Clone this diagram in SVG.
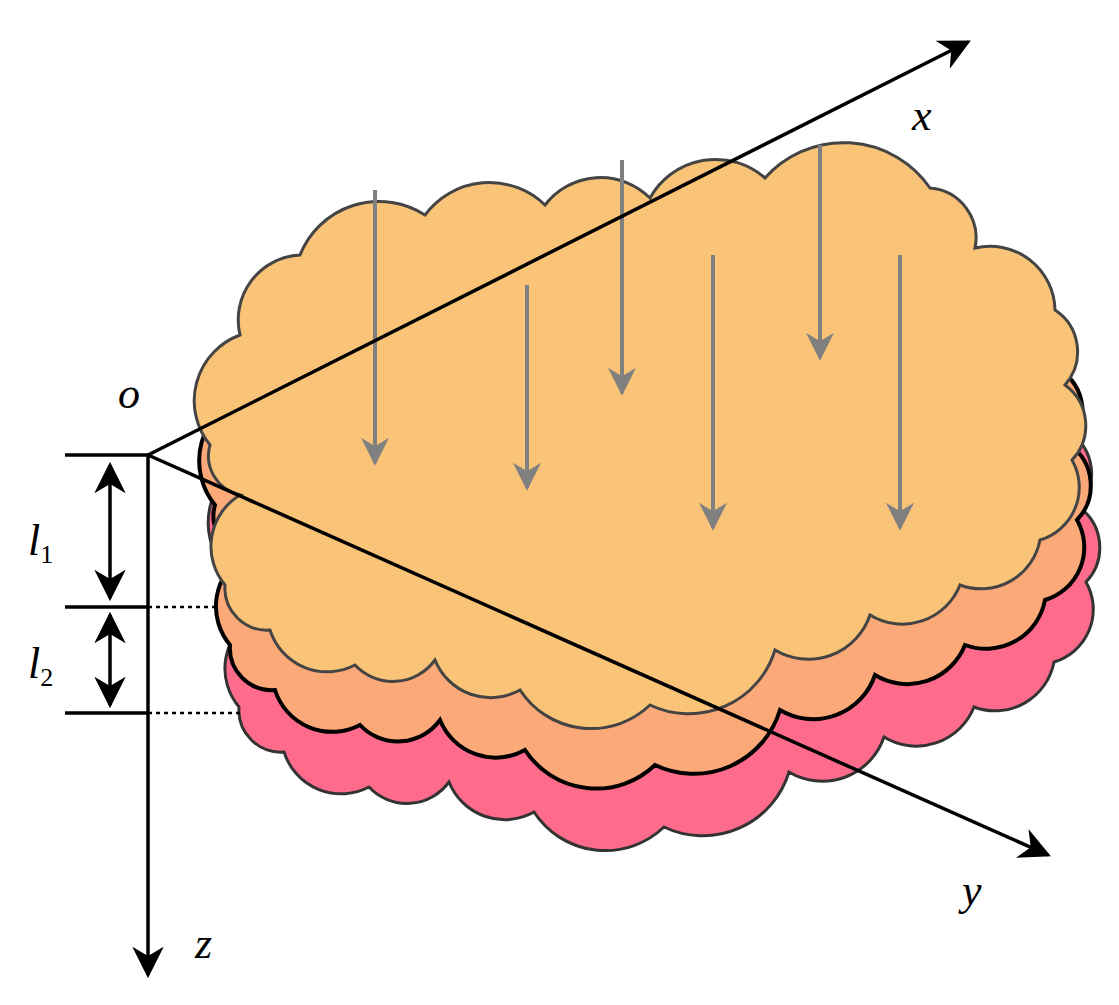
<svg xmlns="http://www.w3.org/2000/svg" width="1119" height="1005" viewBox="0 0 1119 1005">
<defs>
<marker id="bk" viewBox="0 0 10 10" refX="9" refY="5" markerWidth="9" markerHeight="9" orient="auto-start-reverse"><path d="M0,0 L10,5 L0,10 L3,5 Z" fill="#000"/></marker>
<marker id="gr" viewBox="0 0 10 10" refX="9" refY="5" markerWidth="7" markerHeight="7" orient="auto"><path d="M0,0 L10,5 L0,10 L3,5 Z" fill="#808080"/></marker>
<path id="cloud" d="M210,445 A70,70 0 0 1 240,335 A65,65 0 0 1 300,255 A85,85 0 0 1 425,215 A80,80 0 0 1 545,205 A70,70 0 0 1 650,198 A75,75 0 0 1 765,178 A105,105 0 0 1 930,188 A50,50 0 0 1 975,248 A65,65 0 0 1 1055,310 A50,50 0 0 1 1065,385 A50,50 0 0 1 1072,460 A55,55 0 0 1 1040,540 A60,60 0 0 1 960,585 A62,62 0 0 1 870,615 A65,65 0 0 1 775,650 A90,90 0 0 1 650,705 A85,85 0 0 1 520,690 A60,60 0 0 1 435,660 A52,52 0 0 1 355,665 A60,60 0 0 1 270,630 A42,42 0 0 1 225,585 A60,60 0 0 1 240,495 A40,40 0 0 1 210,445 Z"/>
<style>
.ax{stroke:#000;stroke-width:3.5;fill:none}
.g{stroke:#808080;stroke-width:4;marker-end:url(#gr)}
.t{font-family:"Liberation Serif",serif;font-style:italic;font-size:44px}
.s{font-family:"Liberation Serif",serif;font-size:26px}
</style>
</defs>
<use href="#cloud" transform="translate(14,122)" fill="#FF6B8B" stroke="#333" stroke-width="3"/>
<use href="#cloud" transform="translate(5,60)" fill="#FBA978" stroke="#000" stroke-width="4"/>
<use href="#cloud" fill="#F9C378" stroke="#444" stroke-width="3"/>
<g id="arrows">
<line class="g" x1="375" y1="190" x2="375" y2="463"/>
<line class="g" x1="527" y1="285" x2="527" y2="488"/>
<line class="g" x1="622" y1="160" x2="622" y2="393"/>
<line class="g" x1="713" y1="255" x2="713" y2="528"/>
<line class="g" x1="820" y1="145" x2="820" y2="358"/>
<line class="g" x1="900" y1="255" x2="900" y2="528"/>
</g>
<g id="axes">
<line class="ax" x1="148" y1="455" x2="968" y2="42" marker-end="url(#bk)"/>
<line class="ax" x1="148" y1="455" x2="1048" y2="855" marker-end="url(#bk)"/>
<line class="ax" x1="148" y1="455" x2="148" y2="975" marker-end="url(#bk)"/>
<line class="ax" x1="65" y1="455" x2="148" y2="455"/>
<line class="ax" x1="65" y1="607" x2="148" y2="607"/>
<line class="ax" x1="65" y1="713" x2="148" y2="713"/>
<line x1="148" y1="607" x2="218" y2="607" stroke="#000" stroke-width="2.5" stroke-dasharray="4,4"/>
<line x1="148" y1="713" x2="242" y2="713" stroke="#000" stroke-width="2.5" stroke-dasharray="4,4"/>
<line class="ax" x1="110" y1="465" x2="110" y2="598" marker-start="url(#bk)" marker-end="url(#bk)"/>
<line class="ax" x1="110" y1="615" x2="110" y2="705" marker-start="url(#bk)" marker-end="url(#bk)"/>
</g>
<g id="labels">
<text class="t" x="118" y="408">o</text>
<text class="t" x="912" y="130">x</text>
<text class="t" x="962" y="905">y</text>
<text class="t" x="195" y="958">z</text>
<text class="t" x="28" y="555">l<tspan class="s" font-style="normal" dy="8">1</tspan></text>
<text class="t" x="28" y="678">l<tspan class="s" font-style="normal" dy="8">2</tspan></text>
</g>
</svg>
